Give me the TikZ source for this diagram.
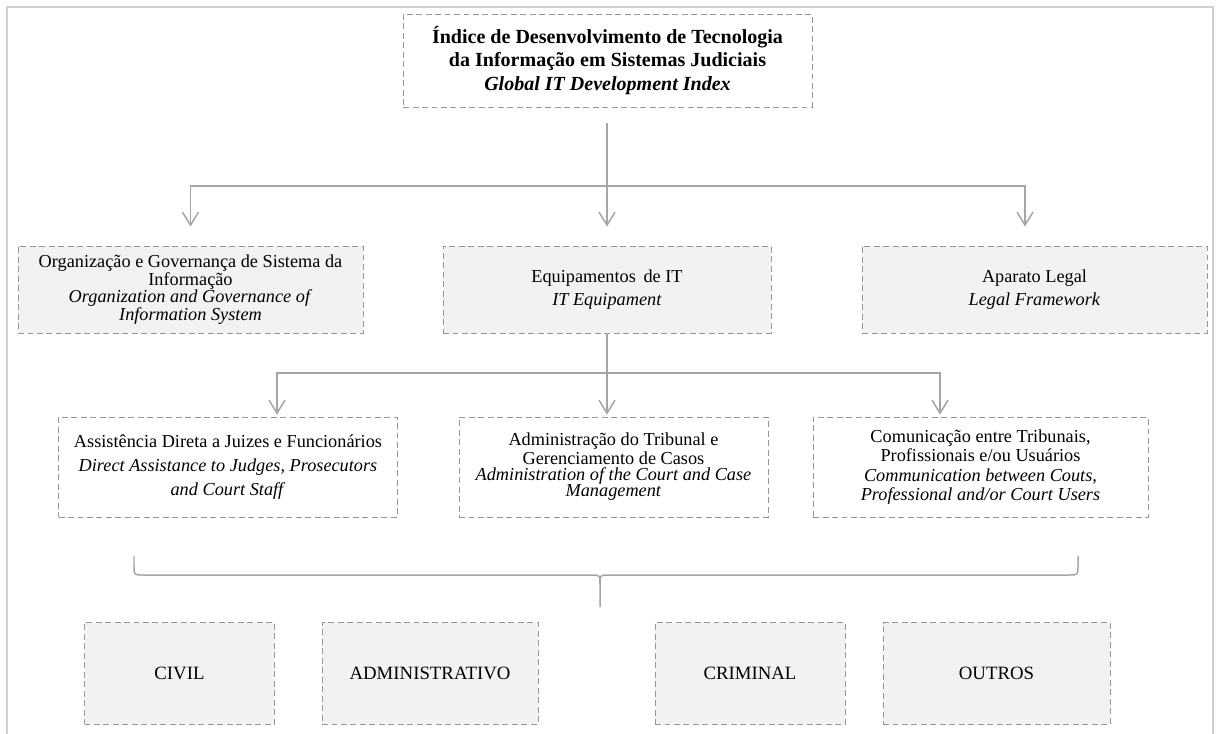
\documentclass[tikz,border=0pt]{standalone}
\usepackage{fontspec}
\setmainfont{Liberation Serif}
\usetikzlibrary{arrows.meta}
\definecolor{framegray}{RGB}{208,208,208}
\definecolor{dashgray}{RGB}{150,150,150}
\definecolor{wiregray}{RGB}{165,165,165}
\definecolor{panelfill}{RGB}{242,242,242}

\begin{document}
\begin{tikzpicture}[
  x=0.02cm, y=-0.02cm,
  cell/.style={draw=dashgray, line width=0.5pt, dash pattern=on 3.4pt off 2pt,
    align=center, inner sep=0pt, font=\fontsize{10.4}{10}\selectfont},
  head/.style={cell, fill=white, minimum width=8.18cm, minimum height=1.86cm,
    font=\fontsize{11.4}{13.3}\selectfont\bfseries},
  pillar/.style={cell, fill=panelfill, minimum height=1.74cm},
  area/.style={cell, fill=white, minimum height=2cm},
  branch/.style={cell, fill=panelfill, minimum height=2.04cm,
    font=\fontsize{10.7}{12}\selectfont},
  flow/.style={draw=wiregray, line width=0.85pt,
    -{Straight Barb[length=2.6mm,width=3.2mm]}},
  wire/.style={draw=wiregray, line width=0.85pt},
  brace/.style={draw=wiregray, line width=0.85pt},
  frame/.style={draw=framegray, line width=1.1pt}
]
  \useasboundingbox (0,0) rectangle (1218,734);
  \draw[frame] (7,740) -- (7,7) -- (1213,7) -- (1213,740);

  % index at the top
  \node[head] (index) at (607.5,60.5)
    {Índice de Desenvolvimento de Tecnologia\\
     da Informação em Sistemas Judiciais\\
     \textit{Global IT  Development Index}};

  % the three pillars
  \node[pillar, minimum width=6.9cm] (gov) at (190.5,289.5)
    {Organização e Governança de Sistema da\\ Informação\\
     \textit{Organization and Governance of}\\ \textit{Information System}};
  \node[pillar, minimum width=6.56cm, font=\fontsize{10.4}{13.4}\selectfont]
    (equip) at (607,289.5)
    {Equipamentos\, de IT\\ \textit{IT Equipament}};
  \node[pillar, minimum width=6.9cm, font=\fontsize{10.4}{13.4}\selectfont]
    (legal) at (1034.5,289.5)
    {Aparato Legal\\ \textit{Legal Framework}};

  % areas under IT equipment
  \node[area, minimum width=6.78cm, font=\fontsize{10.4}{13.6}\selectfont]
    (assist) at (228,467)
    {Assistência Direta a Juizes e Funcionários\\
     \textit{Direct Assistance to Judges, Prosecutors}\\
     \textit{and Court Staff}};
  \node[area, minimum width=6.18cm, font=\fontsize{10.4}{9.3}\selectfont]
    (admin) at (613.5,467)
    {Administração do Tribunal e\\ Gerenciamento de Casos\\
     \textit{Administration of the Court and Case}\\ \textit{Management}};
  \node[area, minimum width=6.7cm, font=\fontsize{10.4}{11.1}\selectfont]
    (comm) at (980.5,467)
    {Comunicação entre Tribunais,\\ Profissionais e/ou Usuários\\
     \textit{Communication between Couts,}\\
     \textit{Professional and/or Court Users}};

  % kinds of court
  \node[branch, minimum width=3.8cm] (civil) at (179.5,673.5) {CIVIL};
  \node[branch, minimum width=4.32cm] (adminv) at (430,673.5) {ADMINISTRATIVO};
  \node[branch, minimum width=3.8cm] (crim) at (750,673.5) {CRIMINAL};
  \node[branch, minimum width=4.54cm] (other) at (996.5,673.5) {OUTROS};

  % index to pillars
  \coordinate (hub) at (607,123);
  \coordinate (split) at (607,186);
  \draw[wire] (hub) -- (split);
  \draw[flow, shorten >=0.38cm] (split) -| (gov.north);
  \draw[flow, shorten >=0.38cm] (split) -- (equip.north);
  \draw[flow, shorten >=0.38cm] (split) -| ([xshift=-0.19cm]legal.north);

  % equipment to areas
  \coordinate (fork) at (607,373);
  \draw[wire] (equip.south) -- (fork);
  \draw[flow, shorten >=0.04cm] (fork) -| ([xshift=0.98cm]assist.north);
  \draw[flow, shorten >=0.04cm] (fork) -- (fork |- admin.north);
  \draw[flow, shorten >=0.04cm] (fork) -| ([xshift=-0.81cm]comm.north);

  % brace over the areas
  \draw[brace] (134,556) -- (134,566) .. controls (134,575) .. (143,575)
    -- (591,575) .. controls (600,575) .. (600,584) -- (600,607);
  \draw[brace] (600,584) .. controls (600,575) .. (609,575)
    -- (1069,575) .. controls (1078,575) .. (1078,566) -- (1078,556);
\end{tikzpicture}
\end{document}
